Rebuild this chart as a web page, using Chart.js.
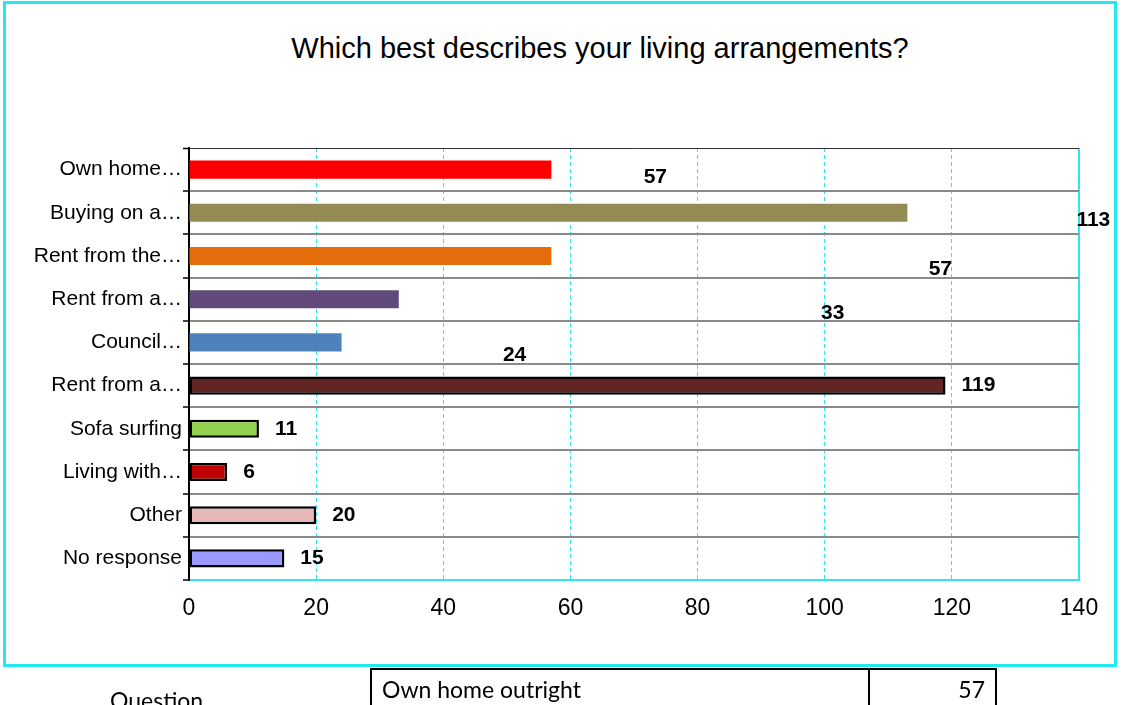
<!DOCTYPE html>
<html>
<head>
<meta charset="utf-8">
<script src="https://cdn.jsdelivr.net/npm/chart.js@4.4.0/dist/chart.umd.min.js"></script>
<style>
  html, body { margin: 0; padding: 0; background: #fff; overflow: hidden; }
  body { width: 1121px; height: 705px; position: relative; font-family: "Liberation Sans", Arial, sans-serif; }
  #frame { position: absolute; left: 3px; top: 1px; width: 1114px; height: 666px; border: 3px solid #22e8f0; box-sizing: border-box; }
  #chart { position: absolute; left: 0; top: 0; }
  #title { position: absolute; left: 0; top: 31px; width: 1200px; text-align: center; font-size: 29px; line-height: 34px; color: #000; }
  #tbl { position: absolute; left: 370px; top: 668px; border-collapse: collapse; font-family: Lato, "Noto Sans", sans-serif; font-size: 23px; }
  #tbl td { border: 2px solid #000; height: 38px; padding: 0 10px; }
  #question { position: absolute; left: 110px; top: 686px; font-family: Lato, "Noto Sans", sans-serif; font-size: 23px; }
</style>
</head>
<body>
<div id="frame"></div>
<div id="title">Which best describes your living arrangements?</div>
<canvas id="chart" width="1121" height="705"></canvas>
<table id="tbl"><tr><td style="width:476px">Own home outright</td><td style="width:105px;text-align:right">57</td></tr></table>
<div id="question">Question</div>
<script>
// values
const categories = ['Own home…', 'Buying on a…', 'Rent from the…', 'Rent from a…', 'Council…',
  'Rent from a…', 'Sofa surfing', 'Living with…', 'Other', 'No response'];
const counts = [57, 113, 57, 33, 24, 119, 11, 6, 20, 15];
const barColors = ['#FF0000', '#948A54', '#E46C0A', '#604A7B', '#4F81BD',
  '#632523', '#92D050', '#C00000', '#E6B9B8', '#9999FF'];
const outlined = [false, false, false, false, false, true, true, true, true, true];
const xMax = 140;
const xStep = 20;

// the first five value labels sit away from their bars in the original (px shift from bar end)
const labelShift = [[104, 8], [186, 7], [389, 13], [434, 14], [173, 13], null, null, null, null, null];

const CYAN = '#2ee6f0';

const valueLabels = {
  id: 'valueLabels',
  afterDatasetsDraw(chart) {
    const ctx = chart.ctx;
    const meta = chart.getDatasetMeta(0);
    ctx.save();
    ctx.font = 'bold 21px "Liberation Sans", Arial, sans-serif';
    ctx.fillStyle = '#000';
    ctx.textBaseline = 'middle';
    meta.data.forEach((bar, i) => {
      const shift = labelShift[i];
      if (shift) {
        ctx.textAlign = 'center';
        ctx.fillText(String(counts[i]), bar.x + shift[0], bar.y + shift[1]);
      } else {
        ctx.textAlign = 'left';
        ctx.fillText(String(counts[i]), bar.x + 16, bar.y);
      }
    });
    ctx.restore();
  },
};

new Chart(document.getElementById('chart'), {
  type: 'bar',
  data: {
    labels: categories,
    datasets: [{
      data: counts,
      backgroundColor: barColors,
      borderColor: '#000',
      borderWidth: ctx => (outlined[ctx.dataIndex] ? 2.5 : 0),
      borderSkipped: false,
      barPercentage: 0.42,
      categoryPercentage: 1,
    }],
  },
  options: {
    indexAxis: 'y',
    responsive: false,
    animation: false,
    layout: { padding: { top: 148, right: 42, left: 0, bottom: 0 } },
    plugins: {
      legend: { display: false },
      tooltip: { enabled: false },
    },
    scales: {
      x: {
        min: 0,
        max: xMax,
        afterFit: s => { s.height = 125; },
        ticks: {
          stepSize: xStep,
          color: '#000',
          padding: 15,
          font: { family: '"Liberation Sans", Arial, sans-serif', size: 23 },
        },
        grid: {
          drawTicks: false,
          color: ctx => (ctx.index === 0 ? 'transparent' : CYAN),
          lineWidth: ctx => (ctx.tick && ctx.tick.value === xMax ? 2 : 1),
        },
        border: {
          color: CYAN,
          width: 2,
          dash: ctx => (ctx.tick && ctx.tick.value === xMax ? [] : [4, 3]),
        },
      },
      y: {
        afterFit: s => { s.width = 189; },
        ticks: {
          autoSkip: false,
          color: '#000',
          padding: 1,
          font: { family: '"Liberation Sans", Arial, sans-serif', size: 21 },
        },
        grid: {
          tickLength: 6,
          tickColor: '#000',
          tickWidth: 1.5,
          color: ctx => (ctx.index === 0 ? '#333' : ctx.index === categories.length ? 'transparent' : '#8a8a8a'),
          lineWidth: ctx => (ctx.index === 0 ? 1 : 2),
        },
        border: { color: '#000', width: 2 },
      },
    },
  },
  plugins: [valueLabels],
});
</script>
</body>
</html>
